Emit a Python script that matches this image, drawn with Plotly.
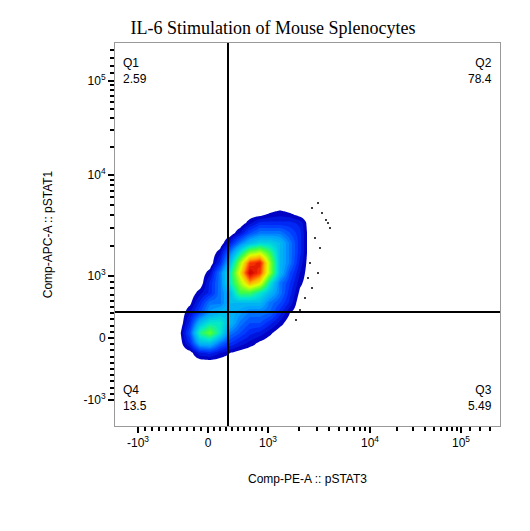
import plotly.graph_objects as go
import numpy as np

title = "IL-6 Stimulation of Mouse Splenocytes"
x_label = "Comp-PE-A :: pSTAT3"
y_label = "Comp-APC-A :: pSTAT1"

# axis display positions (biexponential display units) of decade ticks
x_tick_vals = [138, 208, 268, 370, 461]
y_tick_vals = [402, 340, 278, 177, 83]
tick_text = ["-10<sup>3</sup>", "0", "10<sup>3</sup>", "10<sup>4</sup>", "10<sup>5</sup>"]

# gates
x_gate = 228
y_gate = 314

quad_names = ["Q1", "Q2", "Q3", "Q4"]
quad_values = ["2.59", "78.4", "5.49", "13.5"]

# density grid (display units)
grid_x = [180, 190, 200, 210, 220, 230, 240, 250, 260, 270, 280, 290, 300, 310]
grid_y = [205, 215, 225, 235, 245, 255, 265, 275, 285, 295, 305, 315, 325, 335, 345, 355, 365]
density = [
    [0,0,0,0,0,0,0,0,0,0,0,0,0,0],
    [0,0,0,0,0,0,0,0,0,0.3,0.4,0.3,0,0],
    [0,0,0,0,0,0,0,0.5,1,1,1,1,0.8,0],
    [0,0,0,0,0,0,0.6,1.5,2,2,2,1.5,1,0],
    [0,0,0,0,0,0.8,2,3,3.5,3.5,3,2,1,0],
    [0,0,0,0,0.5,2,4,6,6.5,5,3,2,1,0],
    [0,0,0,0,1,3,6,9,9.5,6,3,2,0.8,0],
    [0,0,0,0.5,2,4,7,10,9,6,3,1.5,0.6,0],
    [0,0,0,1,2,4,6,8,7,4,2,1.2,0.4,0],
    [0,0,0.5,1,2,3,5,5,4,3,2,1,0.2,0],
    [0,0.2,1,2,2,3,3,3,3,2,1.5,0.8,0,0],
    [0,0.6,1.5,2.5,3,3,2.5,2,2,1.8,1,0.3,0,0],
    [0,1,3,4,4,3,2,1.5,1.5,1,0.5,0,0,0],
    [0.2,1.5,4.5,5.5,4,2,1.5,1,0.8,0.4,0,0,0,0],
    [0.1,1,3,3.2,2,1.2,0.8,0.5,0.2,0,0,0,0,0],
    [0,0.1,0.8,1,0.6,0.3,0.1,0,0,0,0,0,0,0],
    [0,0,0,0,0,0,0,0,0,0,0,0,0,0],
]
outlier_x = [312, 318, 322, 326, 330, 315, 320, 310, 308, 328, 318, 305, 312, 300, 296]
outlier_y = [210, 205, 215, 222, 230, 240, 250, 265, 280, 225, 275, 300, 290, 312, 322]

# render-time bilinear refinement of the read grid (display only)
fx = np.linspace(grid_x[0], grid_x[-1], 79)
fy = np.linspace(grid_y[0], grid_y[-1], 97)
D = np.array(density, dtype=float)
tmp = np.array([np.interp(fx, grid_x, row) for row in D])
fine = np.array([np.interp(fy, grid_y, tmp[:, j]) for j in range(tmp.shape[1])]).T

def interp_minor(decades, positions):
    out = []
    for i in range(len(decades) - 1):
        a = decades[i]
        pa, pb = positions[i], positions[i + 1]
        if a > 0:
            for k in range(2, 10):
                out.append(pa + (pb - pa) * np.log10(k))
        else:
            for k in range(1, 10):
                out.append(pa + (pb - pa) * k / 10)
    return out

x_minor = interp_minor([-1000, 0, 1000, 10000, 100000], x_tick_vals) + [470, 480, 490]
y_minor = interp_minor([-1000, 0, 1000, 10000, 100000], y_tick_vals) + [75, 68, 60, 52]

jet = [[0, "white"], [0.039, "white"], [0.04, "#0000c0"], [0.12, "#0030ff"],
       [0.25, "#00a0ff"], [0.4, "#00e8d0"], [0.52, "#40ff40"], [0.68, "#e0ff00"],
       [0.8, "#ffb000"], [0.9, "#ff4000"], [1, "#d00000"]]

fig = go.Figure()
fig.add_trace(go.Contour(x=fx, y=fy, z=fine, colorscale=jet, zmin=0, zmax=10,
                         contours=dict(start=0, end=10, size=0.3, coloring="fill"),
                         line=dict(width=0), showscale=False, line_smoothing=1.3, hoverinfo="skip"))
fig.add_trace(go.Scatter(x=outlier_x, y=outlier_y, mode="markers",
                         marker=dict(size=2, color="black"), showlegend=False))
fig.add_trace(go.Scatter(x=[None], y=[None], xaxis="x2", yaxis="y2", showlegend=False))

fig.add_shape(type="line", x0=x_gate, x1=x_gate, y0=428, y1=45, line=dict(color="black", width=2))
fig.add_shape(type="line", x0=115, x1=500, y0=y_gate, y1=y_gate, line=dict(color="black", width=2))

pos = [(0.015, 0.97, "left", "top"), (0.985, 0.97, "right", "top"),
       (0.985, 0.03, "right", "bottom"), (0.015, 0.03, "left", "bottom")]
for (px, py, xa, ya), n, v in zip(pos, quad_names, quad_values):
    fig.add_annotation(x=px, y=py, xref="paper", yref="paper", xanchor=xa, yanchor=ya,
                       text=f"{n}<br>{v}", showarrow=False, align=xa,
                       font=dict(family="Liberation Sans", size=12, color="black"))

axis_common = dict(showgrid=False, zeroline=False, showline=True, linecolor="#999", mirror=True,
                   ticks="outside", ticklen=6, tickwidth=2, tickcolor="black",
                   tickfont=dict(family="Liberation Sans", size=12, color="black"))
fig.update_layout(
    width=530, height=531, plot_bgcolor="white", paper_bgcolor="white",
    margin=dict(l=107, r=38, t=35, b=113),
    title=dict(text=title, x=0.5, xanchor="center", y=0.975,
               font=dict(family="Liberation Serif", size=18, color="black")),
    xaxis=dict(range=[115, 500], tickvals=x_tick_vals, ticktext=tick_text,
               title=dict(text=x_label, font=dict(family="Liberation Sans", size=12, color="black"), standoff=25),
               **axis_common),
    yaxis=dict(range=[428, 45], tickvals=y_tick_vals, ticktext=tick_text,
               title=dict(text=y_label, font=dict(family="Liberation Sans", size=12, color="black"), standoff=28),
               **axis_common),
    xaxis2=dict(overlaying="x", range=[115, 500], side="bottom", tickvals=x_minor,
                showticklabels=False, ticks="outside", ticklen=4, tickwidth=1.5, tickcolor="black",
                showgrid=False, zeroline=False),
    yaxis2=dict(overlaying="y", range=[428, 45], side="left", tickvals=y_minor,
                showticklabels=False, ticks="outside", ticklen=4, tickwidth=1.5, tickcolor="black",
                showgrid=False, zeroline=False),
)
fig.write_html("out.html")
